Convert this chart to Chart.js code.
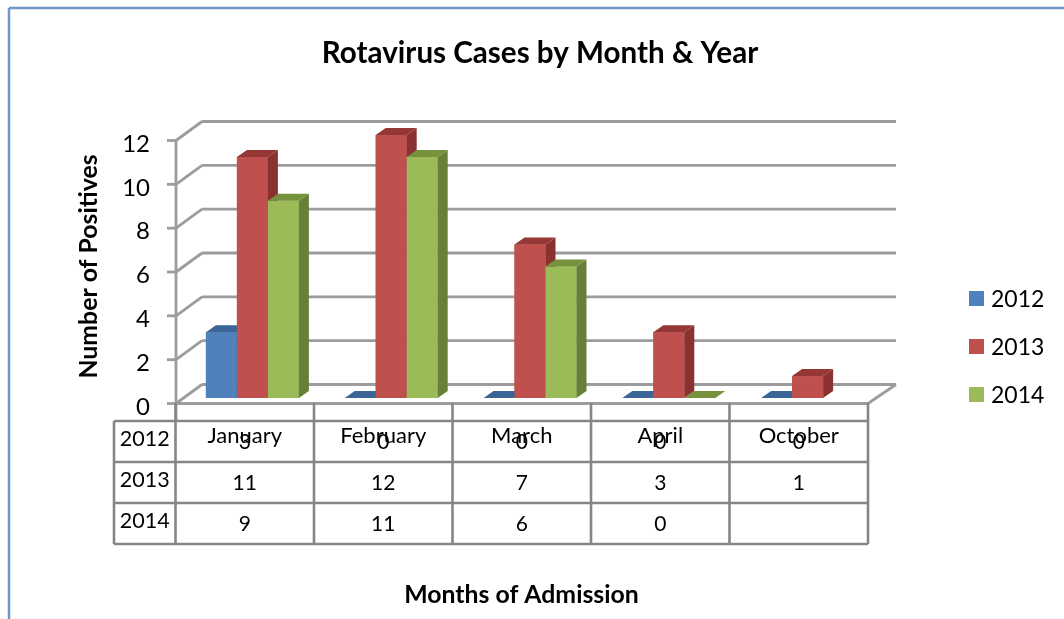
<!DOCTYPE html>
<html>
<head>
<meta charset="utf-8">
<style>
  html, body { margin: 0; padding: 0; background: #fff; }
  #wrap { width: 1064px; height: 619px; }
  canvas { filter: blur(0.4px); }
</style>
<script src="https://cdn.jsdelivr.net/npm/chart.js@4"></script>
</head>
<body>
<div id="wrap"><canvas id="myChart" width="1064" height="619"></canvas></div>
<script>
const months = ['January', 'February', 'March', 'April', 'October'];
const years = ['2012', '2013', '2014'];
const cases2012 = [3, 0, 0, 0, 0];
const cases2013 = [11, 12, 7, 3, 1];
const cases2014 = [9, 11, 6, 0, null];
const yTicks = [0, 2, 4, 6, 8, 10, 12];

const fronts = ['#4f81bd', '#c0504d', '#9bbb59'];
const tops = ['#3a6596', '#953735', '#76923c'];
const sides = ['#345a88', '#8a3230', '#66803a'];
const FONT = 'Lato, Carlito, sans-serif';
const lineGrey = '#9c9c9c';
const tableGrey = '#868686';

function line(c, x1, y1, x2, y2) {
  c.beginPath();
  c.moveTo(x1, y1);
  c.lineTo(x2, y2);
  c.stroke();
}

function poly(c, pts, fill) {
  c.fillStyle = fill;
  c.beginPath();
  pts.forEach((p, i) => i ? c.lineTo(p[0], p[1]) : c.moveTo(p[0], p[1]));
  c.closePath();
  c.fill();
}

function text(c, s, x, y, font, align) {
  c.font = font;
  c.fillStyle = '#000';
  c.textAlign = align || 'center';
  c.textBaseline = 'alphabetic';
  c.fillText(s, x, y);
}

// back wall and floor of the fake 3d box, offset from the bar scale
const wallPlugin = {
  id: 'walls',
  beforeDatasetsDraw(chart) {
    const c = chart.ctx, y = chart.scales.y, a = chart.chartArea;
    const frontL = a.left - 7, frontR = a.right - 9, backL = frontL + 26, backR = frontR + 28;
    c.save();
    c.strokeStyle = lineGrey;
    c.lineWidth = 2.8;
    yTicks.forEach(v => {
      const py = y.getPixelForValue(v);
      line(c, backL, py - 13.5, backR, py - 13.5);
      line(c, frontL, py + 5.5, backL, py - 13.5);
      line(c, frontL - 9, py + 5.5, frontL, py + 5.5);
    });
    const base = y.getPixelForValue(0);
    line(c, frontL, y.getPixelForValue(12) + 5.5, frontL, base + 23);
    line(c, frontL, base + 5.5, frontR, base + 5.5);
    line(c, frontR, base + 5.5, backR, base - 13.5);
    c.restore();
  },
  // chart.js paints the last dataset first, here they are repainted left to right
  // so each bar covers the side face of the one before it
  afterDatasetsDraw(chart) {
    const c = chart.ctx;
    const dx = 10, dy = 7;
    chart.data.datasets.forEach((ds, i) => {
      chart.getDatasetMeta(i).data.forEach((bar, n) => {
        if (ds.data[n] === null) return;
        const l = bar.x - bar.width / 2, r = bar.x + bar.width / 2;
        bar.draw(c);
        if (bar.base - bar.y > 0) {
          poly(c, [[r, bar.y], [r + dx, bar.y - dy], [r + dx, bar.base - dy], [r, bar.base]], sides[i]);
        }
        poly(c, [[l, bar.y], [l + dx, bar.y - dy], [r + dx, bar.y - dy], [r, bar.y]], tops[i]);
      });
    });
  },
  afterDraw(chart) {
    const c = chart.ctx, a = chart.chartArea;
    const band = (a.right - a.left) / months.length;
    const edge = n => a.left - 7.5 + n * (band - 0.3);
    const rows = [421, 462, 503, 544];
    const rowLeft = 114;
    const values = [cases2012, cases2013, cases2014];

    c.save();
    // frame of the picture, only top and left are in view
    c.strokeStyle = '#7196c6';
    c.lineWidth = 2.5;
    line(c, 9, 8, 1064, 8);
    line(c, 9, 8, 9, 619);

    text(c, 'Rotavirus Cases by Month & Year', 540, 63, 'bold 29.6px ' + FONT);
    text(c, 'Months of Admission', 521.5, 603, 'bold 24.8px ' + FONT);

    // data table
    c.strokeStyle = tableGrey;
    c.lineWidth = 2.6;
    rows.forEach(r => line(c, rowLeft, r, edge(months.length), r));
    line(c, rowLeft, rows[0], rowLeft, rows[3]);
    for (let n = 0; n <= months.length; n++) {
      line(c, edge(n), 403, edge(n), rows[3]);
    }
    years.forEach((yr, r) => {
      text(c, yr, (rowLeft + edge(0)) / 2, rows[r] + 25, '21.5px ' + FONT);
      months.forEach((m, n) => {
        const v = values[r][n];
        if (v !== null) text(c, String(v), (edge(n) + edge(n + 1)) / 2, rows[r] + 27.5, '21px ' + FONT);
      });
    });
    months.forEach((m, n) => {
      text(c, m, (edge(n) + edge(n + 1)) / 2, rows[0] + 22, '22px ' + FONT);
    });

    // legend
    years.forEach((yr, r) => {
      const ly = 298 + r * 48;
      c.fillStyle = fronts[r];
      c.fillRect(969, ly - 7, 15, 15);
      text(c, yr, 991, ly + 9, '23px ' + FONT, 'left');
    });
    c.restore();
  }
};

new Chart(document.getElementById('myChart').getContext('2d'), {
  type: 'bar',
  data: {
    labels: months,
    datasets: [
      { label: years[0], data: cases2012, backgroundColor: fronts[0] },
      { label: years[1], data: cases2013, backgroundColor: fronts[1] },
      { label: years[2], data: cases2014, backgroundColor: fronts[2] }
    ]
  },
  options: {
    responsive: false,
    animation: false,
    layout: { padding: { left: 70, top: 135, right: 187, bottom: 221 } },
    datasets: { bar: { categoryPercentage: 0.67, barPercentage: 1 } },
    scales: {
      x: { display: false },
      y: {
        min: 0,
        max: 12,
        afterFit: s => { s.width = 113; },
        grid: { display: false },
        border: { display: false },
        ticks: {
          stepSize: 2,
          color: '#000',
          padding: 25,
          labelOffset: 9,
          font: { family: FONT, size: 24 }
        },
        title: {
          display: true,
          text: 'Number of Positives',
          color: '#000',
          font: { family: FONT, size: 24.8, weight: 'bold' }
        }
      }
    },
    plugins: {
      legend: { display: false },
      title: { display: false },
      tooltip: { enabled: false }
    }
  },
  plugins: [wallPlugin]
});
</script>
</body>
</html>
